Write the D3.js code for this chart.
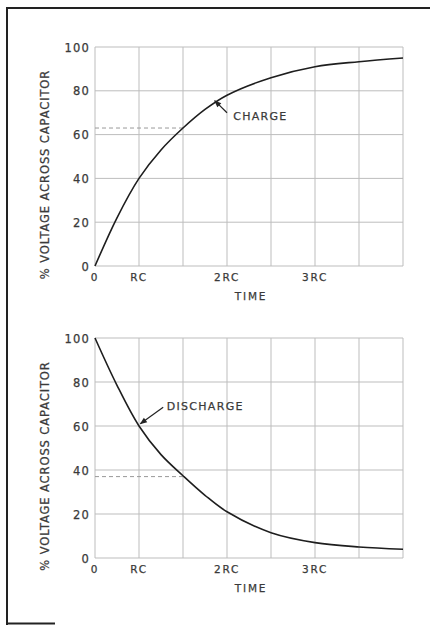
<!DOCTYPE html>
<meta charset="utf-8">
<style>
  body { margin: 0; background: #fff; }
  text { font-family: "DejaVu Sans", sans-serif; fill: #3a3a3a; stroke: #3a3a3a; stroke-width: 0.25; }
</style>
<svg width="431" height="625"></svg>
<script src="https://cdn.jsdelivr.net/npm/d3@7"></script>
<script>
// grid runs in half-steps of the time constant, labels as printed on the figure
var steps = [0, 1, 2, 3, 4, 5, 6, 7];
var timeTicks = [0, 1, 3, 5];
var timeLabels = ["0", "RC", "2RC", "3RC"];
var voltTicks = [0, 20, 40, 60, 80, 100];

// values
var chargeTime = [0, 0.5, 1, 1.5, 2, 2.5, 3, 4, 5, 6, 7];
var chargeVolt = [0, 22, 40, 53, 63, 71.5, 78, 86, 91, 93.3, 95];
var dischargeTime = [0, 0.5, 1, 1.5, 2, 2.5, 3, 4, 5, 6, 7];
var dischargeVolt = [100, 78.5, 60, 47, 37.4, 28.5, 21, 11.5, 7, 5, 4];

var svg = d3.select("svg");

// frame (top, left, small bit at bottom)
svg.append("path")
    .attr("d", "M7,625 L7,8 L430,8 M7,623.5 L55,623.5")
    .attr("fill", "none").attr("stroke", "#222").attr("stroke-width", 2);

svg.append("defs").append("marker")
    .attr("id", "head").attr("viewBox", "0 0 10 10")
    .attr("refX", 9).attr("refY", 5)
    .attr("markerWidth", 7).attr("markerHeight", 6).attr("orient", "auto")
  .append("path").attr("d", "M0,1 L10,5 L0,9 Z").attr("fill", "#222");

var x = d3.scaleLinear().domain([0, 7]).range([95, 403]);

function panel(top, bottom, times, volts, dashAt, note) {
  var y = d3.scaleLinear().domain([0, 100]).range([bottom, top]);
  var g = svg.append("g");

  // grid
  g.selectAll(".vx").data(steps).join("line")
      .attr("x1", x).attr("x2", x).attr("y1", y(0)).attr("y2", y(100))
      .attr("stroke", "#bdbdbd").attr("stroke-width", 1);
  g.selectAll(".hy").data(voltTicks).join("line")
      .attr("x1", x(0)).attr("x2", x(7)).attr("y1", y).attr("y2", y)
      .attr("stroke", "#bdbdbd").attr("stroke-width", 1);

  // y tick labels
  g.selectAll(".yl").data(voltTicks).join("text")
      .attr("x", 90).attr("y", function(d) { return y(d) + 4.5; })
      .attr("text-anchor", "end").attr("font-size", 11.5).attr("letter-spacing", 1.2)
      .text(function(d) { return d; });

  // x tick labels
  g.selectAll(".xl").data(timeTicks).join("text")
      .attr("x", function(d) { return x(d); }).attr("y", y(0) + 15)
      .attr("text-anchor", "middle").attr("font-size", 10.5).attr("letter-spacing", 1.8)
      .text(function(d, i) { return timeLabels[i]; });

  g.append("text")
      .attr("x", (x(0) + x(7)) / 2 + 2).attr("y", y(0) + 34)
      .attr("text-anchor", "middle").attr("font-size", 10.5).attr("letter-spacing", 1.8)
      .text("TIME");

  g.append("text")
      .attr("transform", "translate(49," + (y(50) + 18) + ") rotate(-90)")
      .attr("text-anchor", "middle").attr("font-size", 11.5).attr("letter-spacing", 0.9)
      .text("% VOLTAGE ACROSS CAPACITOR");

  // dashed guide
  g.append("line")
      .attr("x1", x(0)).attr("x2", x(2)).attr("y1", y(dashAt)).attr("y2", y(dashAt))
      .attr("stroke", "#999").attr("stroke-width", 1).attr("stroke-dasharray", "4,3");

  // curve
  var line = d3.line()
      .x(function(d, i) { return x(times[i]); })
      .y(function(d) { return y(d); })
      .curve(d3.curveCatmullRom.alpha(0.5));
  g.append("path").datum(volts)
      .attr("d", line).attr("fill", "none")
      .attr("stroke", "#1e1e1e").attr("stroke-width", 1.6);

  // annotation arrow + label
  g.append("line")
      .attr("x1", x(note.from[0])).attr("y1", y(note.from[1]))
      .attr("x2", x(note.to[0])).attr("y2", y(note.to[1]))
      .attr("stroke", "#222").attr("stroke-width", 1.2)
      .attr("marker-end", "url(#head)");
  g.append("text")
      .attr("x", x(note.at[0])).attr("y", y(note.at[1]))
      .attr("font-size", 11).attr("letter-spacing", 1.3)
      .text(note.label);
}

panel(47, 266, chargeTime, chargeVolt, 63,
  { label: "CHARGE", from: [3.0, 70], to: [2.72, 75.5], at: [3.14, 66.5] });
panel(338, 558, dischargeTime, dischargeVolt, 37,
  { label: "DISCHARGE", from: [1.55, 68.5], to: [1.03, 61], at: [1.63, 67.3] });
</script>
